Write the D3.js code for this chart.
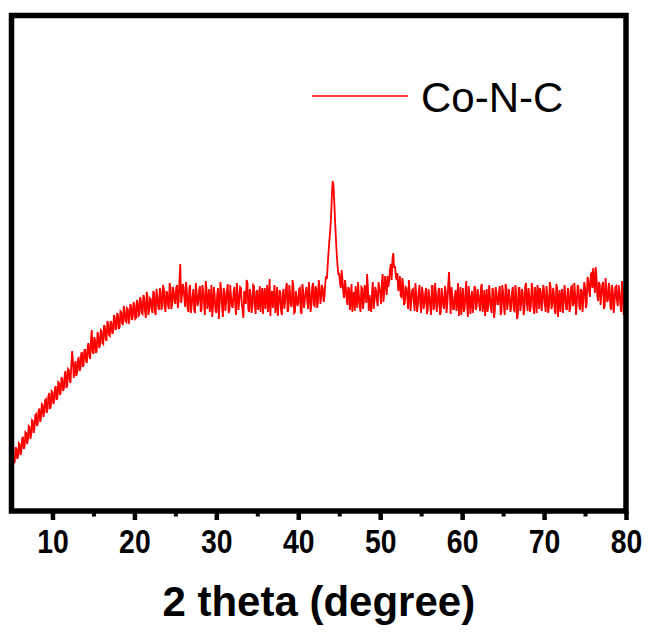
<!DOCTYPE html>
<html>
<head>
<meta charset="utf-8">
<script src="https://cdn.jsdelivr.net/npm/d3@7"></script>
<style>
  body { margin: 0; background: #fff; }
  text { font-family: "Liberation Sans", Arial, sans-serif; }
</style>
</head>
<body>
<div id="chart"></div>
<script>
// XRD pattern: two interleaved grids of 0.2 degree
// intensity  -> 5.0, 5.2, 5.4 ... 80.0
// intensityMid -> 5.1, 5.3, 5.5 ... 79.9
var twoThetaStart = 5, twoThetaStep = 0.2;
var twoThetaMidStart = 5.1;
var seriesName = "Co-N-C";
var xTicks = [10, 20, 30, 40, 50, 60, 70, 80];
var xMinorTicks = [15, 25, 35, 45, 55, 65, 75];

var intensity = [
  92, 112, 98, 124, 110,      // 5
  134, 118, 147, 128, 156,    // 6
  142, 168, 152, 180, 165,    // 7
  194, 174, 205, 186, 212,    // 8
  198, 224, 204, 236, 210,    // 9
  238, 218, 250, 226, 256,    // 10
  236, 262, 246, 280, 250,    // 11
  282, 256, 320, 266, 300,    // 12
  276, 306, 284, 318, 292,    // 13
  322, 296, 336, 304, 362,    // 14
  314, 342, 320, 352, 332,    // 15
  360, 334, 368, 340, 374,    // 16
  350, 376, 358, 388, 366,    // 17
  392, 368, 398, 372, 402,    // 18
  378, 404, 384, 410, 388,    // 19
  412, 386, 418, 392, 420,    // 20
  394, 426, 386, 430, 400,    // 21
  424, 396, 436, 392, 428,    // 22
  402, 438, 410, 444, 398,    // 23
  436, 404, 448, 412, 440,    // 24
  414, 452, 420, 494, 430,    // 25
  448, 408, 440, 398, 452,    // 26
  412, 444, 396, 436, 418,    // 27
  450, 404, 438, 392, 446,    // 28
  420, 398, 452, 410, 432,    // 29
  396, 446, 414, 440, 388,    // 30
  438, 418, 454, 400, 428,    // 31
  406, 448, 392, 436, 420,    // 32
  446, 402, 440, 414, 456,    // 33
  398, 432, 408, 450, 394,    // 34
  442, 416, 398, 446, 424,    // 35
  404, 452, 418, 390, 440,    // 36
  430, 396, 448, 412, 438,    // 37
  392, 444, 420, 456, 402,    // 38
  436, 408, 450, 398, 428,    // 39
  416, 446, 394, 440, 422,    // 40
  448, 404, 436, 412, 456,    // 41
  410, 444, 418, 450, 428,    // 42
  444, 430, 470, 494, 542,    // 43
  588, 660, 616, 544, 490,    // 44
  476, 446, 462, 426, 448,    // 45
  412, 444, 420, 398, 438,    // 46
  450, 406, 432, 398, 446,    // 47
  418, 440, 474, 400, 414,    // 48
  436, 404, 448, 420, 458,    // 49
  436, 456, 418, 470, 432,    // 50
  448, 484, 462, 516, 490,    // 51
  462, 440, 470, 428, 452,    // 52
  416, 446, 404, 438, 420,    // 53
  444, 400, 432, 410, 452,    // 54
  396, 438, 414, 446, 402,    // 55
  428, 392, 450, 408, 436,    // 56
  412, 446, 398, 430, 404,    // 57
  440, 416, 478, 394, 432,    // 58
  404, 442, 418, 390, 448,    // 59
  420, 398, 436, 412, 450,    // 60
  394, 440, 408, 446, 414,    // 61
  432, 400, 454, 418, 390,    // 62
  444, 410, 428, 396, 442,    // 63
  402, 436, 414, 450, 398,    // 64
  438, 392, 446, 416, 428,    // 65
  410, 448, 400, 434, 392,    // 66
  446, 414, 436, 402, 456,    // 67
  400, 430, 412, 444, 394,    // 68
  428, 452, 404, 438, 416,    // 69
  442, 398, 430, 408, 448,    // 70
  412, 436, 394, 446, 420,    // 71
  398, 444, 418, 432, 404,    // 72
  440, 406, 450, 414, 430,    // 73
  418, 446, 402, 440, 424,    // 74
  448, 414, 460, 428, 476,    // 75
  486, 436, 466, 420, 452,    // 76
  434, 458, 410, 444, 422,    // 77
  446, 402, 438, 416, 450,    // 78
  410, 436, 398, 444, 404,    // 79
  420                         // 80
];

var intensityMid = [
  118, 96, 128, 104, 136,     // 5.x
  112, 146, 124, 158, 134,    // 6.x
  170, 144, 182, 156, 192,    // 7.x
  170, 200, 178, 214, 188,    // 8.x
  222, 196, 230, 204, 240,    // 9.x
  214, 246, 222, 258, 232,    // 10.x
  268, 240, 274, 246, 284,    // 11.x
  262, 292, 300, 286, 270,    // 12.x
  304, 280, 314, 288, 322,    // 13.x
  300, 330, 310, 342, 318,    // 14.x
  348, 316, 358, 326, 362,    // 15.x
  336, 372, 344, 380, 352,    // 16.x
  380, 354, 392, 362, 396,    // 17.x
  364, 400, 376, 410, 380,    // 18.x
  406, 374, 414, 382, 418,    // 19.x
  384, 422, 390, 428, 396,    // 20.x
  432, 398, 438, 392, 426,    // 21.x
  404, 440, 398, 444, 410,    // 22.x
  446, 402, 452, 408, 440,    // 23.x
  412, 456, 404, 448, 418,    // 24.x
  446, 406, 462, 416, 454,    // 25.x
  424, 458, 404, 446, 396,    // 26.x
  430, 402, 456, 410, 442,    // 27.x
  398, 452, 416, 460, 404,    // 28.x
  444, 414, 388, 448, 400,    // 29.x
  432, 384, 458, 408, 446,    // 30.x
  400, 442, 396, 452, 410,    // 31.x
  438, 414, 456, 402, 448,    // 32.x
  416, 386, 430, 462, 404,    // 33.x
  444, 396, 452, 410, 438,    // 34.x
  402, 450, 428, 394, 446,    // 35.x
  428, 398, 464, 436, 406,    // 36.x
  452, 414, 390, 442, 400,    // 37.x
  434, 404, 446, 398, 452,    // 38.x
  412, 462, 396, 440, 410,    // 39.x
  444, 400, 454, 406, 438,    // 40.x
  418, 458, 398, 448, 412,    // 41.x
  450, 406, 462, 414, 452,    // 42.x
  418, 456, 464, 518, 560,    // 43.x
  630, 650, 578, 512, 472,    // 44.x
  454, 482, 436, 462, 424,    // 45.x
  448, 402, 454, 430, 400,    // 46.x
  428, 458, 410, 448, 404,    // 47.x
  452, 416, 446, 432, 398,    // 48.x
  458, 420, 440, 410, 446,    // 49.x
  414, 474, 440, 452, 470,    // 50.x
  462, 494, 504, 486, 470,    // 51.x
  476, 448, 430, 466, 412,    // 52.x
  448, 426, 462, 400, 442,    // 53.x
  418, 456, 398, 440, 414,    // 54.x
  448, 404, 436, 394, 444,    // 55.x
  410, 450, 402, 456, 398,    // 56.x
  440, 392, 446, 410, 450,    // 57.x
  396, 452, 434, 448, 404,    // 58.x
  428, 400, 456, 414, 392,    // 59.x
  446, 404, 460, 388, 430,    // 60.x
  422, 396, 450, 402, 444,    // 61.x
  410, 448, 398, 442, 418,    // 62.x
  398, 452, 406, 446, 386,    // 63.x
  448, 414, 440, 392, 452,    // 64.x
  410, 454, 402, 444, 398,    // 65.x
  440, 402, 452, 384, 446,    // 66.x
  400, 444, 392, 450, 414,    // 67.x
  446, 398, 456, 406, 448,    // 68.x
  396, 438, 446, 400, 452,    // 69.x
  412, 450, 396, 458, 404,    // 70.x
  446, 400, 454, 388, 442,    // 71.x
  428, 396, 452, 404, 446,    // 72.x
  398, 448, 410, 456, 392,    // 73.x
  452, 408, 444, 398, 458,    // 74.x
  406, 468, 440, 474, 446,    // 75.x
  462, 488, 430, 458, 412,    // 76.x
  452, 404, 466, 418, 456,    // 77.x
  408, 452, 396, 448, 420,    // 78.x
  452, 416, 460, 392, 438     // 79.x
];

var data = intensity.map(function(v, i) {
    return { t: twoThetaStart + i * twoThetaStep, v: v };
  })
  .concat(intensityMid.map(function(v, i) {
    return { t: twoThetaMidStart + i * twoThetaStep, v: v };
  }))
  .sort(function(a, b) { return a.t - b.t; });

var W = 650, H = 632;
var plot = { left: 11.5, right: 626, top: 15.5, bottom: 511 };

var svg = d3.select("#chart").append("svg")
  .attr("width", W)
  .attr("height", H);

var x = d3.scaleLinear().domain([5, 80]).range([plot.left, plot.right]);
var y = d3.scaleLinear().domain([0, 991]).range([plot.bottom, plot.top]);

// minor ticks
svg.append("g")
  .attr("transform", "translate(0," + plot.bottom + ")")
  .call(d3.axisBottom(x).tickValues(xMinorTicks).tickSize(5.5).tickFormat(""))
  .call(function(g) { g.select(".domain").remove(); })
  .selectAll("line").attr("stroke", "#000").attr("stroke-width", 4);

// major ticks + labels
var xAxis = svg.append("g")
  .attr("transform", "translate(0," + plot.bottom + ")")
  .call(d3.axisBottom(x).tickValues(xTicks).tickSize(9).tickFormat(d3.format("d")));
xAxis.select(".domain").remove();
xAxis.selectAll("line").attr("stroke", "#000").attr("stroke-width", 4.5);
xAxis.selectAll("text")
  .attr("y", 42)
  .attr("dy", null)
  .attr("fill", "#000")
  .attr("transform", "scale(0.86,1)")
  .style("font-size", "33px")
  .style("font-weight", "bold");

// the pattern
var line = d3.line()
  .x(function(d) { return x(d.t); })
  .y(function(d) { return y(d.v); });

svg.append("path")
  .datum(data)
  .attr("d", line)
  .attr("fill", "none")
  .attr("stroke", "#ff0000")
  .attr("stroke-width", 1.8);

// frame
svg.append("rect")
  .attr("x", plot.left)
  .attr("y", plot.top)
  .attr("width", plot.right - plot.left)
  .attr("height", plot.bottom - plot.top)
  .attr("fill", "none")
  .attr("stroke", "#000")
  .attr("stroke-width", 5.5);

// legend
svg.append("line")
  .attr("x1", 312).attr("x2", 408)
  .attr("y1", 96).attr("y2", 96)
  .attr("stroke", "#ff0000")
  .attr("stroke-width", 1.5);
svg.append("text")
  .attr("x", 421)
  .attr("y", 112)
  .style("font-size", "42px")
  .text(seriesName);

// x title
svg.append("text")
  .attr("x", (plot.left + plot.right) / 2)
  .attr("y", 616)
  .attr("text-anchor", "middle")
  .style("font-size", "42px")
  .style("font-weight", "bold")
  .text("2 theta (degree)");
</script>
</body>
</html>
